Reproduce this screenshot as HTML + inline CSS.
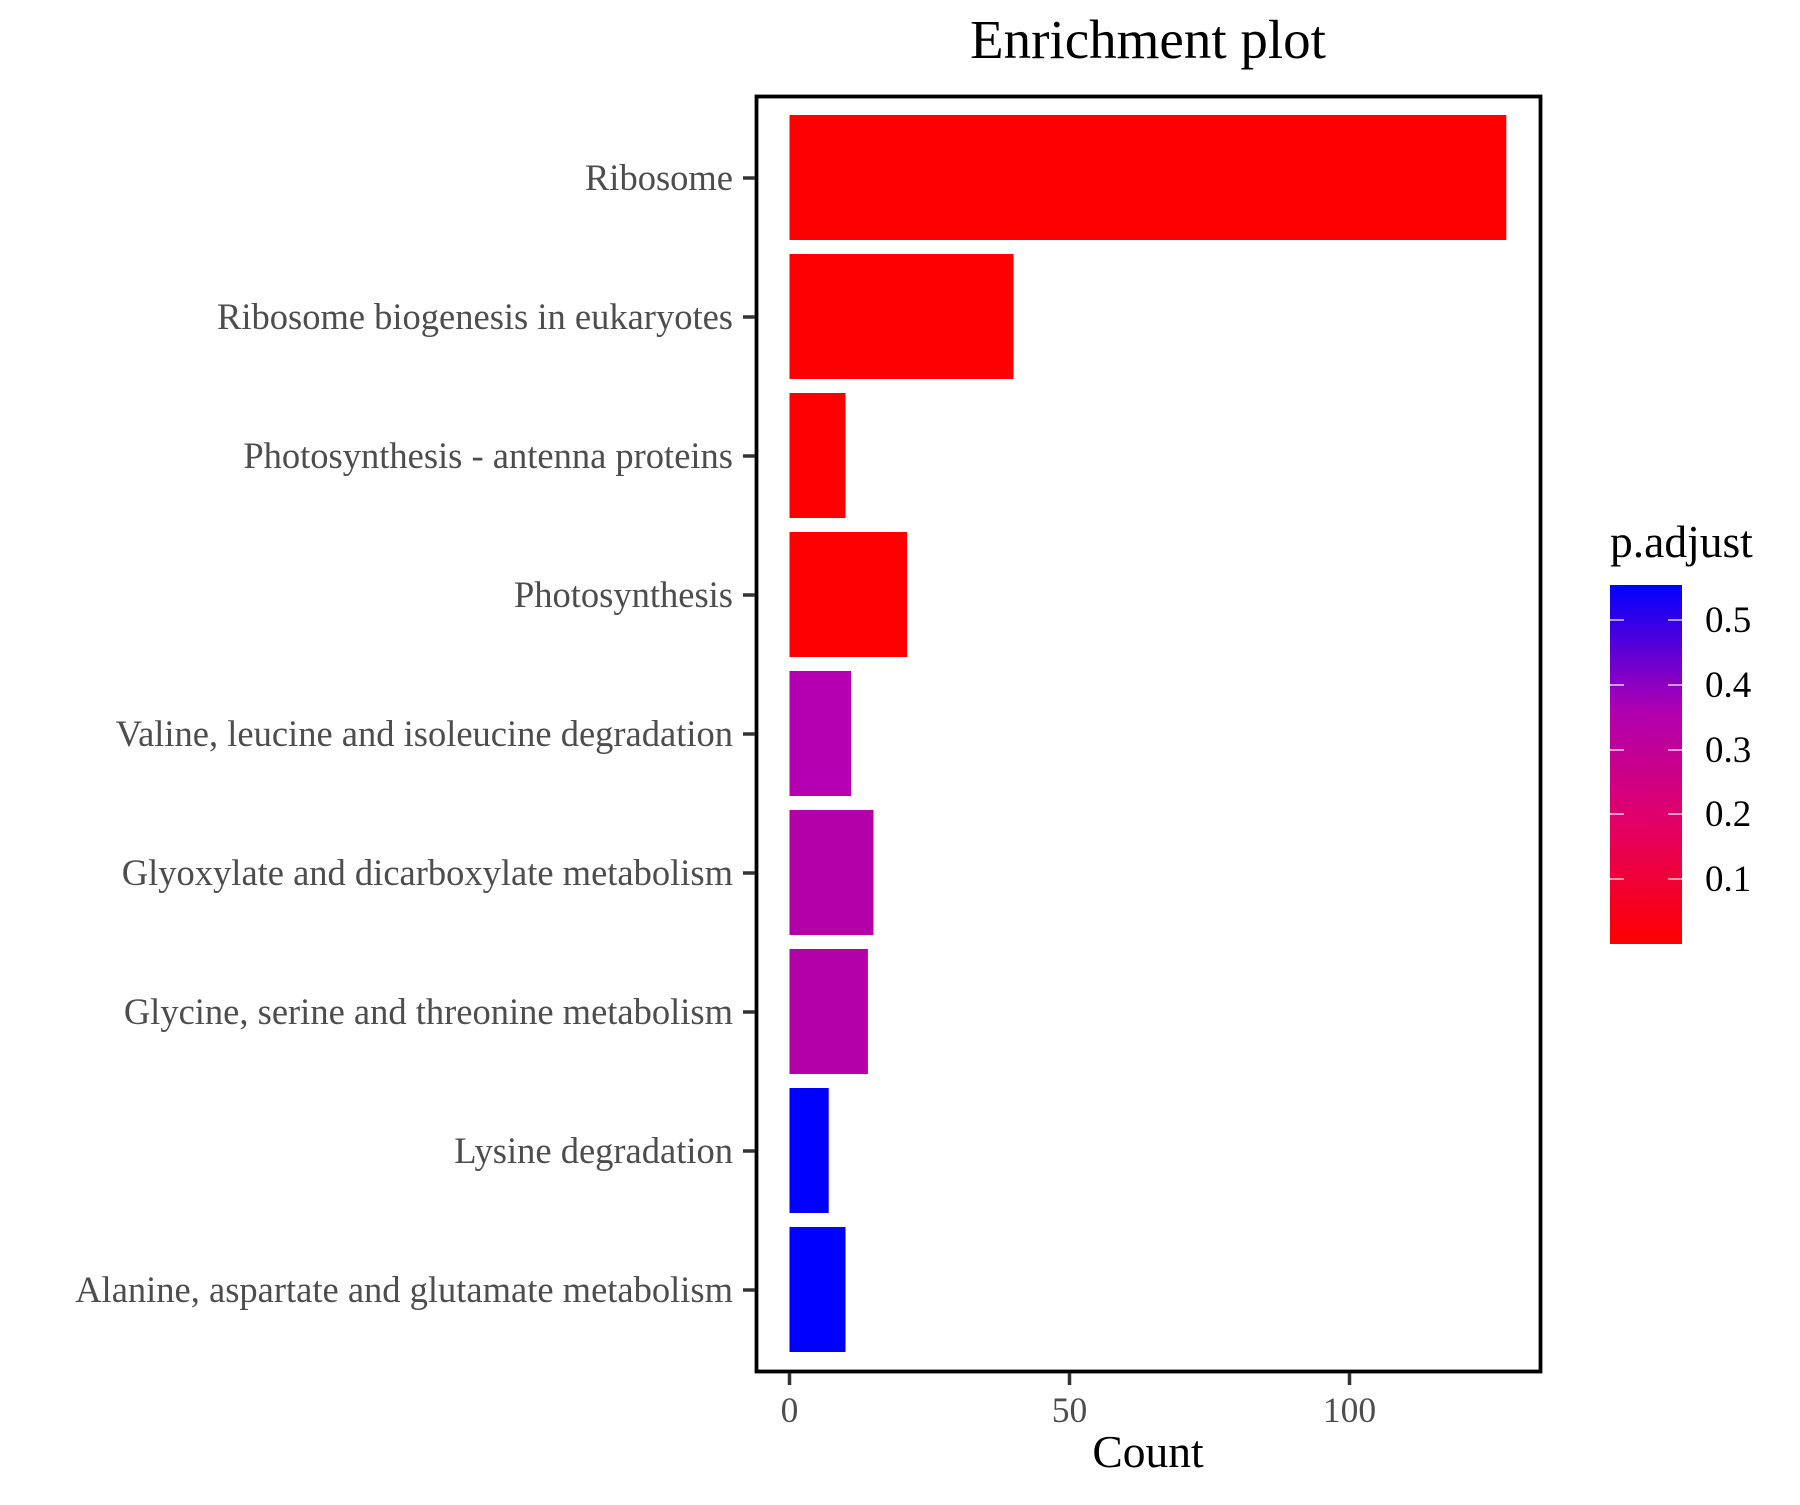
<!DOCTYPE html>
<html><head><meta charset="utf-8"><style>
html,body{margin:0;padding:0;background:#fff;}
svg text{font-family:"Liberation Serif",serif;}
</style></head><body>
<svg width="1800" height="1500" viewBox="0 0 1800 1500" xmlns="http://www.w3.org/2000/svg">
<defs>
<linearGradient id="g" x1="0" y1="1" x2="0" y2="0">
<stop offset="0" stop-color="#ff0000"/>
<stop offset="0.35" stop-color="#e0006a"/>
<stop offset="0.65" stop-color="#b000b0"/>
<stop offset="1" stop-color="#0000ff"/>
</linearGradient>
</defs>
<text x="1148" y="58" font-size="55" text-anchor="middle" fill="#000">Enrichment plot</text>
<g fill="#ff0000">
<rect x="789.5" y="115" width="716.8" height="125"/>
<rect x="789.5" y="254" width="224" height="125"/>
<rect x="789.5" y="393" width="56" height="125"/>
</g>
<rect x="789.5" y="532" width="117.6" height="125" fill="#ff0000"/>
<rect x="789.5" y="671" width="61.6" height="125" fill="#b400b0"/>
<rect x="789.5" y="810" width="84" height="125" fill="#b400a8"/>
<rect x="789.5" y="949" width="78.4" height="125" fill="#b400a8"/>
<rect x="789.5" y="1088" width="39.2" height="125" fill="#0000ff"/>
<rect x="789.5" y="1227" width="56" height="125" fill="#0000ff"/>
<rect x="756.5" y="96.5" width="784" height="1275" fill="none" stroke="#000" stroke-width="3.8"/>
<g stroke="#333" stroke-width="3.5">
<line x1="743" x2="755" y1="178" y2="178"/><line x1="743" x2="755" y1="317" y2="317"/>
<line x1="743" x2="755" y1="456" y2="456"/><line x1="743" x2="755" y1="595" y2="595"/>
<line x1="743" x2="755" y1="734" y2="734"/><line x1="743" x2="755" y1="873" y2="873"/>
<line x1="743" x2="755" y1="1012" y2="1012"/><line x1="743" x2="755" y1="1151" y2="1151"/>
<line x1="743" x2="755" y1="1290" y2="1290"/>
<line x1="789.5" x2="789.5" y1="1373" y2="1385"/><line x1="1069.5" x2="1069.5" y1="1373" y2="1385"/><line x1="1349.5" x2="1349.5" y1="1373" y2="1385"/>
</g>
<g font-size="36.5" fill="#4d4d4d" text-anchor="end">
<text x="733" y="190">Ribosome</text>
<text x="733" y="329">Ribosome biogenesis in eukaryotes</text>
<text x="733" y="468">Photosynthesis - antenna proteins</text>
<text x="733" y="607">Photosynthesis</text>
<text x="733" y="746">Valine, leucine and isoleucine degradation</text>
<text x="733" y="885">Glyoxylate and dicarboxylate metabolism</text>
<text x="733" y="1024">Glycine, serine and threonine metabolism</text>
<text x="733" y="1163">Lysine degradation</text>
<text x="733" y="1302">Alanine, aspartate and glutamate metabolism</text>
</g>
<g font-size="35.5" fill="#4d4d4d" text-anchor="middle">
<text x="789.5" y="1422">0</text><text x="1069.5" y="1422">50</text><text x="1349.5" y="1422">100</text>
</g>
<text x="1148" y="1467" font-size="45.5" text-anchor="middle" fill="#000">Count</text>
<text x="1610" y="557" font-size="45.5" fill="#000">p.adjust</text>
<rect x="1610" y="585" width="72" height="359" fill="url(#g)"/>
<g stroke="#fff" stroke-width="1.5" opacity="0.8">
<line x1="1610" x2="1624" y1="620" y2="620"/><line x1="1668" x2="1682" y1="620" y2="620"/>
<line x1="1610" x2="1624" y1="685" y2="685"/><line x1="1668" x2="1682" y1="685" y2="685"/>
<line x1="1610" x2="1624" y1="750" y2="750"/><line x1="1668" x2="1682" y1="750" y2="750"/>
<line x1="1610" x2="1624" y1="814" y2="814"/><line x1="1668" x2="1682" y1="814" y2="814"/>
<line x1="1610" x2="1624" y1="879" y2="879"/><line x1="1668" x2="1682" y1="879" y2="879"/>
</g>
<g font-size="37" fill="#000">
<text x="1705" y="632">0.5</text><text x="1705" y="697">0.4</text><text x="1705" y="762">0.3</text>
<text x="1705" y="826">0.2</text><text x="1705" y="891">0.1</text>
</g>
</svg>
</body></html>
